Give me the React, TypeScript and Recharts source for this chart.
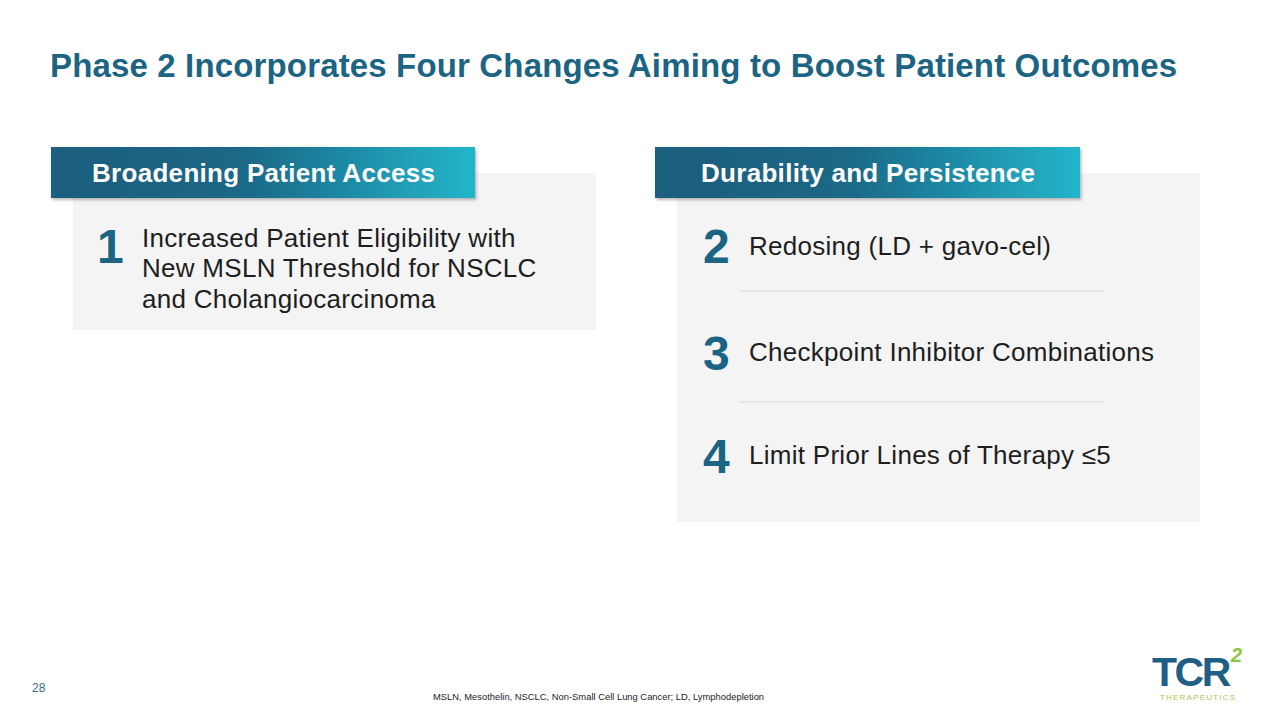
import React from 'react';
import { ComposedChart, XAxis, YAxis, ReferenceArea, ReferenceLine, Scatter } from 'recharts';

// ---------- content ----------
const title = 'Phase 2 Incorporates Four Changes Aiming to Boost Patient Outcomes';
const sectionTitles = ['Broadening Patient Access', 'Durability and Persistence'];
const itemNumbers = ['1', '2', '3', '4'];
const itemLines = [
  ['Increased Patient Eligibility with', 'New MSLN Threshold for NSCLC', 'and Cholangiocarcinoma'],
  ['Redosing (LD + gavo-cel)'],
  ['Checkpoint Inhibitor Combinations'],
  ['Limit Prior Lines of Therapy \u22645'],
];
const pageNumber = '28';
const footnote = 'MSLN, Mesothelin, NSCLC, Non-Small Cell Lung Cancer; LD, Lymphodepletion';
const logoMain = 'TCR';
const logoSup = '2';
const logoSub = 'THERAPEUTICS';

// ---------- layout (page pixel units) ----------
const W = 1280;
const H = 720;
const FONT = '"Liberation Sans", Arial, Helvetica, sans-serif';
const TEAL = '#1b6483';
const panels = [
  { x1: 73, x2: 596, y1: 173, y2: 330 },
  { x1: 677, x2: 1200, y1: 173, y2: 522 },
];
const headers = [
  { x1: 51, x2: 475, y1: 147, y2: 198, tx: 92 },
  { x1: 655, x2: 1080, y1: 147, y2: 198, tx: 701 },
];
const itemPos = [
  { nx: 97, ny: 263, tx: 142, ty: 246.5 },
  { nx: 703, ny: 263, tx: 749, ty: 255 },
  { nx: 703, ny: 370, tx: 749, ty: 361 },
  { nx: 703, ny: 473, tx: 749, ty: 464 },
];
const dividers = [291, 402];

type T = { x: number; y: number; text: string; size: number; weight: string; fill: string; anchor?: string; ls?: number; style?: string };

const texts: T[] = [];
texts.push({ x: 50, y: 77, text: title, size: 33, weight: 'bold', fill: TEAL, ls: 0.15 });
sectionTitles.forEach((s, i) =>
  texts.push({ x: headers[i].tx, y: 182, text: s, size: 26, weight: 'bold', fill: '#ffffff', ls: 0.3 })
);
itemNumbers.forEach((n, i) => {
  const p = itemPos[i];
  texts.push({ x: p.nx, y: p.ny, text: n, size: 48, weight: 'bold', fill: TEAL });
  itemLines[i].forEach((l, j) =>
    texts.push({ x: p.tx, y: p.ty + j * 30.5, text: l, size: 26, weight: 'normal', fill: '#1e1e1e', ls: 0.28 })
  );
});
texts.push({ x: 32, y: 692, text: pageNumber, size: 12, weight: 'normal', fill: '#2e6f8e' });
texts.push({ x: 433, y: 700, text: footnote, size: 9.4, weight: 'normal', fill: '#222222' });
texts.push({ x: 1152, y: 686, text: logoMain, size: 41, weight: 'bold', fill: '#1f5f86', ls: -2.5 });
texts.push({ x: 1231, y: 662, text: logoSup, size: 20, weight: 'bold', fill: '#8cc63f', style: 'italic' });
texts.push({ x: 1160, y: 700, text: logoSub, size: 8, weight: 'normal', fill: '#a9c94a', ls: 1.2 });

const TextShape = (props: any) => {
  const { cx, cy, payload } = props;
  const p = payload as T;
  return (
    <text
      x={cx}
      y={cy}
      fontFamily={FONT}
      fontSize={p.size}
      fontWeight={p.weight}
      fontStyle={p.style || 'normal'}
      fill={p.fill}
      letterSpacing={p.ls || 0}
      textAnchor={p.anchor || 'start'}
    >
      {p.text}
    </text>
  );
};

const HeaderShape = (props: any) => {
  const { x, y, width, height } = props;
  return <rect x={x} y={y} width={width} height={height} fill="url(#hdrGrad)" filter="url(#hdrShadow)" />;
};

export default function App() {
  return (
    <div style={{ position: 'absolute', left: 0, top: 0, width: W, height: H, background: '#fff' }}>
      <ComposedChart width={W} height={H} margin={{ top: 0, right: 0, bottom: 0, left: 0 }} data={texts}>
        <defs>
          <linearGradient id="hdrGrad" x1="0" y1="0" x2="1" y2="0">
            <stop offset="0%" stopColor="#1a5e7e" />
            <stop offset="45%" stopColor="#1b6787" />
            <stop offset="100%" stopColor="#23b5ca" />
          </linearGradient>
          <filter id="hdrShadow" x="-5%" y="-20%" width="115%" height="150%">
            <feDropShadow dx="1.5" dy="2" stdDeviation="1.5" floodColor="#000" floodOpacity="0.28" />
          </filter>
        </defs>
        <XAxis type="number" dataKey="x" domain={[0, W]} allowDataOverflow hide />
        <YAxis type="number" dataKey="y" domain={[0, H]} allowDataOverflow reversed hide />
        {panels.map((p, i) => (
          <ReferenceArea key={'p' + i} x1={p.x1} x2={p.x2} y1={p.y1} y2={p.y2} fill="#f4f4f4" fillOpacity={1} stroke="none" />
        ))}
        {dividers.map((d, i) => (
          <ReferenceLine key={'d' + i} segment={[{ x: 739, y: d }, { x: 1104, y: d }]} stroke="#d6d6d6" strokeWidth={1.2} />
        ))}
        {headers.map((h, i) => (
          <ReferenceArea key={'h' + i} x1={h.x1} x2={h.x2} y1={h.y1} y2={h.y2} shape={HeaderShape} />
        ))}
        <Scatter data={texts} dataKey="y" shape={TextShape} isAnimationActive={false} />
      </ComposedChart>
    </div>
  );
}
